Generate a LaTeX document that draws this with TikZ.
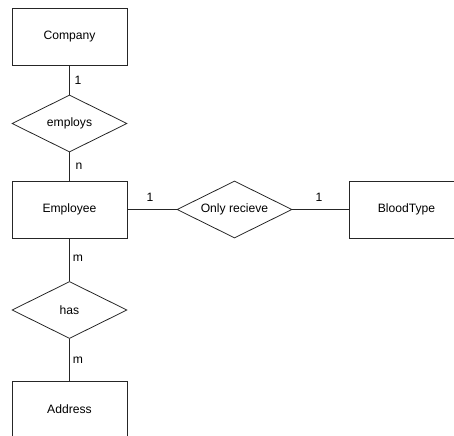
\documentclass[tikz,border=0pt]{standalone}
\usepackage{fontspec}
\setmainfont{Liberation Sans}
\usetikzlibrary{shapes.geometric}

\begin{document}
\begin{tikzpicture}[
    x=0.75pt, y=-0.75pt,
    font=\fontsize{9.1}{11}\selectfont,
    entity/.style={rectangle, draw=black!85, line width=0.6pt,
                   minimum width=86.25pt, minimum height=42.75pt,
                   inner sep=0pt},
    rel/.style={diamond, draw=black!85, line width=0.6pt, aspect=2,
                minimum width=86.25pt, minimum height=42.75pt,
                inner sep=0pt},
    link/.style={draw=black!85, line width=0.6pt},
    card/.style={inner sep=0pt}
  ]

  \useasboundingbox (0,0) rectangle (454,436);
  \clip (0,0) rectangle (454,436);

  % entities
  \node[entity] (company)  at (69.5,37)    {Company};
  \node[entity] (employee) at (69.5,209.5) {Employee};
  \node[entity] (blood)    at (406.5,209.5){BloodType};
  \node[entity] (address)  at (69.5,409.5) {Address};

  % relationships
  \node[rel] (employs) at (69.5,123.5)  {employs};
  \node[rel] (recv)    at (234.5,209.5) {Only recieve};
  \node[rel] (has)     at (69.5,310)    {has};

  \foreach \a/\b in {company/employs, employs/employee, employee/recv,
                     recv/blood, employee/has, has/address}
    \draw[link] (\a) -- (\b);

  % cardinalities
  \node[card] (c1) at (78,80)   {1};
  \node[card] (cn) at (79,166)  {n};
  \node[card] (e1) at (150,197) {1};
  \node[card] (b1) at (319,197) {1};
  \node[card] (m1) at (78,258)  {m};
  \node[card] (m2) at (78,360)  {m};

\end{tikzpicture}
\end{document}
